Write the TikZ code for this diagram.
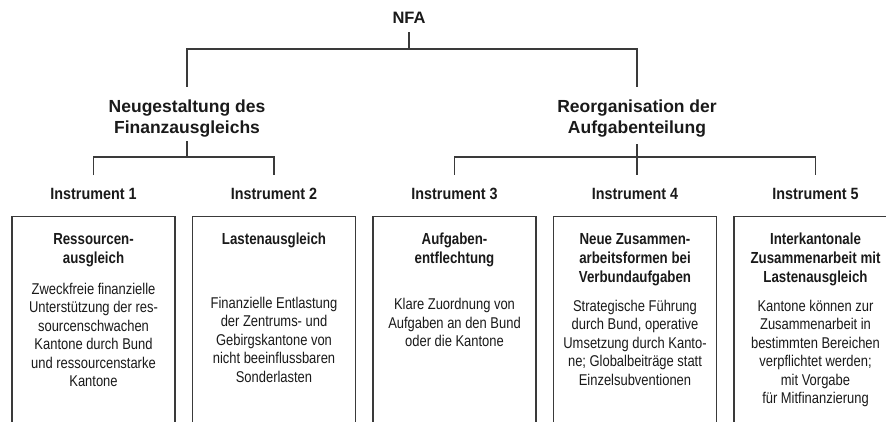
\documentclass[tikz,border=0pt]{standalone}
\usepackage{fontspec}
\setmainfont{Liberation Sans}
\newfontfamily\narrowfont[FakeStretch=0.83]{Liberation Sans}
\newfontfamily\instfont[FakeStretch=0.88]{Liberation Sans}
\definecolor{ink}{HTML}{1A1A1A}
\definecolor{linec}{HTML}{3A3A3A}
\begin{document}
\begin{tikzpicture}[x=1pt,y=1pt,
  conn/.style={draw=linec, line width=1.2pt},
  boxst/.style={draw=linec, line width=1.3pt, minimum width=163pt, minimum height=230pt, anchor=north, inner sep=0},
  toptxt/.style={font=\bfseries\fontsize{16.5}{20}\selectfont, text=ink, inner sep=0, anchor=base},
  lvltxt/.style={font=\bfseries\fontsize{17.5}{20.5}\selectfont, text=ink, align=center, inner sep=0, anchor=base},
  insttxt/.style={font=\instfont\bfseries\fontsize{16.3}{19}\selectfont, text=ink, inner sep=0, anchor=base},
  ttltxt/.style={font=\narrowfont\bfseries\fontsize{16}{19}\selectfont, text=ink, align=center, inner sep=0, anchor=base},
  bdytxt/.style={font=\narrowfont\fontsize{15.6}{18.5}\selectfont, text=ink, align=center, inner sep=0, anchor=base}
]
\useasboundingbox (0,0) rectangle (886,421);
\clip (0,0) rectangle (886,421);
\fill[white] (0,0) rectangle (886,421);

% top level (base anchor = baseline of the last line)
\node[toptxt] (nfa) at (409,397) {NFA};
\node[lvltxt] (L) at (187,287.8) {Neugestaltung des\\Finanzausgleichs};
\node[lvltxt] (R) at (637,287.8) {Reorganisation der\\Aufgabenteilung};

% instruments
\node[insttxt] (I1) at (93.5,221.7) {Instrument 1};
\node[insttxt] (I2) at (274,221.7) {Instrument 2};
\node[insttxt] (I3) at (454.5,221.7) {Instrument 3};
\node[insttxt] (I4) at (635,221.7) {Instrument 4};
\node[insttxt] (I5) at (815.5,221.7) {Instrument 5};

% boxes
\node[boxst] (B1) at (93.5,205) {};
\node[boxst] (B2) at (274,205) {};
\node[boxst] (B3) at (454.5,205) {};
\node[boxst] (B4) at (635,205) {};
\node[boxst] (B5) at (815.5,205) {};

% box titles
\node[ttltxt] (T1) at (93.5,157.7) {Ressourcen-\\ausgleich};
\node[ttltxt] (T2) at (274,176.7) {Lastenausgleich};
\node[ttltxt] (T3) at (454.5,157.7) {Aufgaben-\\entflechtung};
\node[ttltxt] (T4) at (635,138.7) {Neue Zusammen-\\arbeitsformen bei\\Verbundaufgaben};
\node[ttltxt] (T5) at (815.5,138.7) {Interkantonale\\Zusammenarbeit mit\\Lastenausgleich};

% box bodies
\node[bdytxt] (D1) at (93.5,34.5) {Zweckfreie finanzielle\\Unterstützung der res-\\sourcenschwachen\\Kantone durch Bund\\und ressourcenstarke\\Kantone};
\node[bdytxt] (D2) at (274,39) {Finanzielle Entlastung\\der Zentrums- und\\Gebirgskantone von\\nicht beeinflussbaren\\Sonderlasten};
\node[bdytxt] (D3) at (454.5,74.5) {Klare Zuordnung von\\Aufgaben an den Bund\\oder die Kantone};
\node[bdytxt] (D4) at (635,36) {Strategische Führung\\durch Bund, operative\\Umsetzung durch Kanto-\\ne; Globalbeiträge statt\\Einzelsubventionen};
\node[bdytxt] (D5) at (815.5,17.5) {Kantone können zur\\Zusammenarbeit in\\bestimmten Bereichen\\verpflichtet werden;\\mit Vorgabe\\für Mitfinanzierung};

% connectors
\coordinate (jt) at (409,372);
\coordinate (jL) at (187,264);
\coordinate (jR) at (637,264);
\draw[conn] ([yshift=-8pt]nfa.south) -- (jt);
\draw[conn] ([yshift=13pt]L.north) |- (jt) -| ([yshift=13pt]R.north);
\draw[conn] ([yshift=-4pt]L.south) -- (jL);
\draw[conn] ([yshift=12.8pt]I1.north) |- (jL) -| ([yshift=12.8pt]I2.north);
\draw[conn] ([yshift=-7pt]R.south) -- ([yshift=12.8pt]R.south |- I4.north);
\draw[conn] ([yshift=12.8pt]I3.north) |- (jR) -| ([yshift=12.8pt]I5.north);
\end{tikzpicture}
\end{document}
